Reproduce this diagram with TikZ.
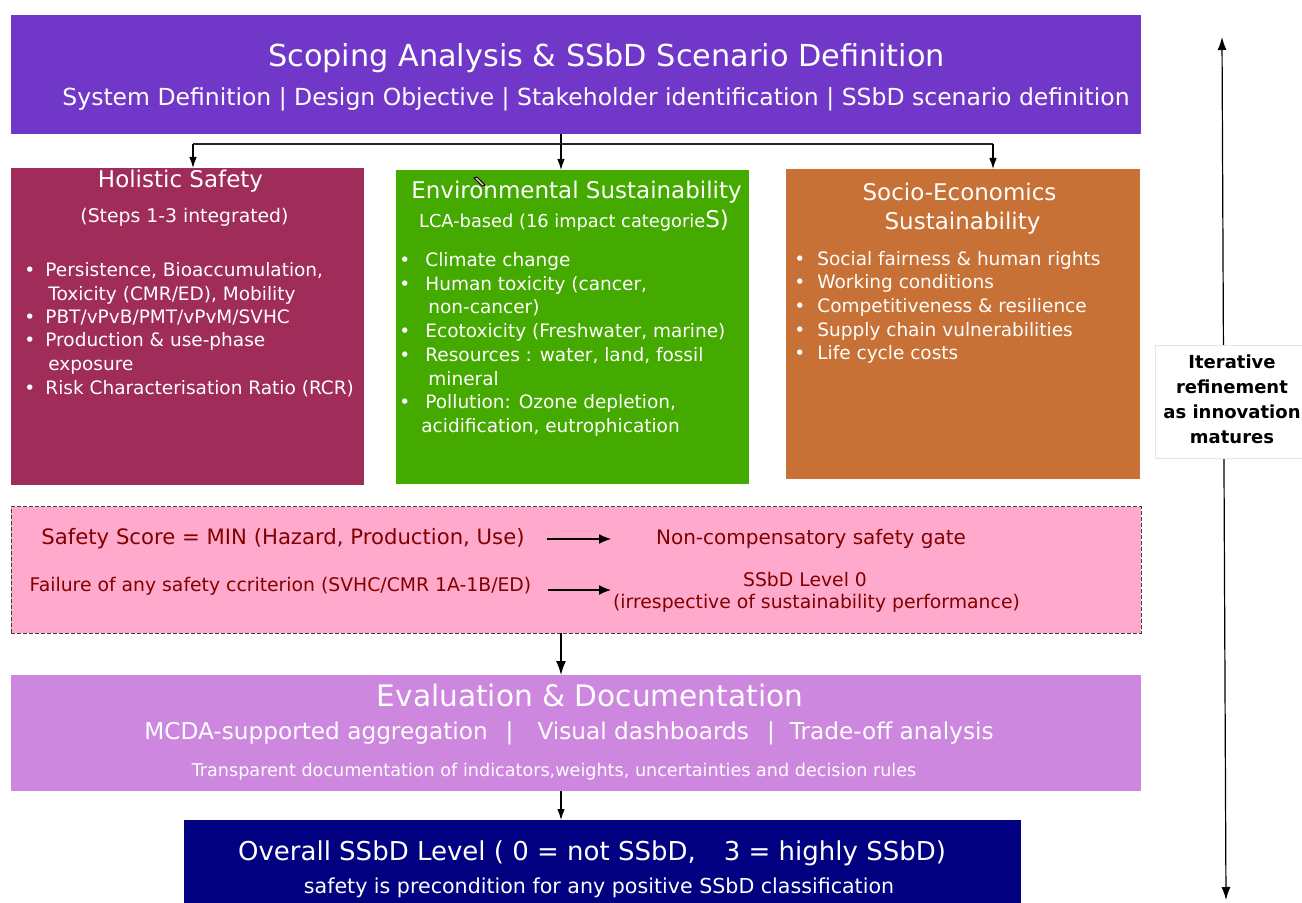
\documentclass[tikz,border=0pt]{standalone}
\usepackage{fontspec}
\setmainfont{DejaVu Sans}
\usepackage{xcolor}
\usetikzlibrary{positioning, arrows.meta}

\definecolor{scopepurple}{HTML}{7137C8}
\definecolor{safetyred}{HTML}{A02C5A}
\definecolor{envgreen}{HTML}{44AA00}
\definecolor{socioorange}{HTML}{C87137}
\definecolor{gatepink}{HTML}{FFAACC}
\definecolor{gatetext}{HTML}{800000}
\definecolor{evallilac}{HTML}{CD87DE}
\definecolor{overallnavy}{HTML}{000080}

\newcommand{\fsz}[1]{\fontsize{#1}{#1}\selectfont}

\begin{document}
\begin{tikzpicture}[x=0.5pt, y=-0.5pt,
    panel/.style={rectangle, anchor=north west, inner sep=0pt, outer sep=0pt},
    txt/.style={anchor=base, inner sep=0pt, text=white},
    item/.style={anchor=base west, inner sep=0pt, text=white, font=\fsz{9.25}},
    link/.style={-{Latex[length=5.5pt, width=3.8pt]}, line width=0.6pt},
    flow/.style={-{Latex[length=7pt, width=5pt]}, line width=0.7pt},
    gatearrow/.style={-{Latex[length=6pt, width=5pt]}, line width=0.7pt},
    gatetxt/.style={anchor=base, inner sep=0pt, text=gatetext}]

    \useasboundingbox (0,0) rectangle (1302,903);

    % scoping
    \node[panel, fill=scopepurple, minimum width=565pt, minimum height=59.5pt] (scope) at (11,15) {};
    \node[txt, font=\fsz{15.15}] (scopetitle) at (606.5,67) {Scoping Analysis \& SSbD Scenario Definition};
    \node[txt, font=\fsz{11.75}] (scopesub) at (596,106) {System Definition | Design Objective | Stakeholder identification | SSbD scenario definition};

    % the three pillars
    \node[panel, fill=safetyred, minimum width=176.5pt, minimum height=158.5pt] (safety) at (11,168) {};
    \node[panel, fill=envgreen, minimum width=176.5pt, minimum height=157pt] (envir) at (396,170) {};
    \node[panel, fill=socioorange, minimum width=177pt, minimum height=155pt] (socio) at (786,169) {};

    \node[txt, font=\fsz{11.5}] (safetyhead) at (180.5,188) {Holistic Safety};
    \node[txt, font=\fsz{9.4}] (safetysub) at (184.5,223) {(Steps 1-3 integrated)};
    \foreach \x/\y/\itemtxt [count=\i] in {45/277/{Persistence, Bioaccumulation,}, 48/300.5/{Toxicity (CMR/ED), Mobility},
        45/324/{PBT/vPvB/PMT/vPvM/SVHC}, 45/347/{Production \& use-phase}, 48/371/{exposure},
        45/395/{Risk Characterisation Ratio (RCR)}}
        \node[item] (hs\i) at (\x,\y) {\itemtxt};
    \foreach \y [count=\i] in {277,324,347,395}
        \node[item] (hsdot\i) at (24,\y) {\textbullet};

    \node[txt, font=\fsz{11.5}] (envhead) at (576.5,199) {Environmental Sustainability};
    \node[txt, font=\fsz{8.9}] (envsub) at (574,228) {LCA-based (16 impact categorie{\fsz{11.5}S)}};
    \filldraw[fill=gatepink, draw=black, line width=0.4pt] (474,178) -- (477,177) -- (485,185) -- (482,186) -- cycle;
    \foreach \x/\y/\itemtxt [count=\i] in {425/267/{Climate change}, 425/291/{Human toxicity (cancer,}, 428/314/{non-cancer)},
        425/338/{Ecotoxicity (Freshwater, marine)}, 425/362/{Resources : water, land, fossil}, 428/386/{mineral},
        425/409/{Pollution: Ozone depletion,}, 421/433/{acidification, eutrophication}}
        \node[item] (es\i) at (\x,\y) {\itemtxt};
    \foreach \y [count=\i] in {267,291,338,362,409}
        \node[item] (esdot\i) at (399,\y) {\textbullet};

    \node[txt, font=\fsz{11.5}] (sociohead) at (959.5,201) {Socio-Economics};
    \node[txt, font=\fsz{11.5}] (sociohead2) at (962.5,230) {Sustainability};
    \foreach \y/\itemtxt [count=\i] in {266/{Social fairness \& human rights}, 289/{Working conditions},
        313/{Competitiveness \& resilience}, 337/{Supply chain vulnerabilities}, 360/{Life cycle costs}}
    {
        \node[item] (ss\i) at (817,\y) {\itemtxt};
        \node[item] (ssdot\i) at (794,\y) {\textbullet};
    }

    % fork from scoping to the pillars
    \coordinate (fork) at (561,144);
    \coordinate (forkL) at (193,144);
    \coordinate (forkR) at (993,144);
    \draw[line width=0.6pt] (scope.south -| fork) -- (fork);
    \draw[line width=1pt, black!85] (forkL) -- (forkR);
    \draw[link] (fork) -- (envir.north -| fork);
    \draw[link] (forkL) -- (safety.north -| forkL);
    \draw[link] (forkR) -- (socio.north -| forkR);

    % safety gate
    \node[panel, fill=gatepink, draw=black!75, dash pattern=on 2pt off 1pt, line width=0.5pt,
        minimum width=565pt, minimum height=63pt] (gate) at (11,507) {};
    \node[gatetxt, font=\fsz{10.6}] (score) at (283,545) {Safety Score = MIN (Hazard, Production, Use)};
    \node[gatetxt, font=\fsz{10}] (gaterule) at (811,545) {Non-compensatory safety gate};
    \node[gatetxt, font=\fsz{9.4}] (failure) at (280.5,591.7) {Failure of any safety ccriterion (SVHC/CMR 1A-1B/ED)};
    \node[gatetxt, font=\fsz{9.4}] (levelzero) at (805,586.7) {SSbD Level 0};
    \node[gatetxt, font=\fsz{9.4}] (irresp) at (816.5,608.3) {(irrespective of sustainability performance)};
    \coordinate (scoretip) at (611,539);
    \coordinate (failtip) at (611,590);
    \draw[gatearrow, shorten <=11pt] (score.east |- scoretip) -- (scoretip);
    \draw[gatearrow, shorten <=8pt] (failure.east |- failtip) -- (failtip);

    % evaluation
    \node[panel, fill=evallilac, minimum width=565pt, minimum height=58pt] (evaldoc) at (11,675) {};
    \node[txt, font=\fsz{14.8}] (evalhead) at (590,706.7) {Evaluation \& Documentation};
    \node[txt, font=\fsz{11.6}] (evaltools) at (569,739.3) {MCDA-supported aggregation\hspace{9pt}|\hspace{12pt}Visual dashboards\hspace{9pt}|\hspace{7.5pt}Trade-off analysis};
    \node[txt, font=\fsz{8.8}] (evalnote) at (554,776.7) {Transparent documentation of indicators,weights, uncertainties and decision rules};

    % overall level
    \node[panel, fill=overallnavy, minimum width=418.5pt, minimum height=44pt] (overall) at (184,820) {};
    \node[txt, font=\fsz{13}] (overallhead) at (592,860) {Overall SSbD Level ( 0 = not SSbD,\hspace{14pt}3 = highly SSbD)};
    \node[txt, font=\fsz{10.3}] (overallnote) at (599,893.3) {safety is precondition for any positive SSbD classification};

    \draw[flow] (gate.south -| fork) -- (evaldoc.north -| fork);
    \draw[link] (evaldoc.south -| fork) -- (overall.north -| fork);

    % iteration loop on the right
    \coordinate (looptop) at (1222,37);
    \coordinate (loopbot) at (1226,900);
    \draw[{Latex[length=6.5pt, width=4.5pt]}-{Latex[length=6.5pt, width=4.5pt]}, line width=0.6pt] (looptop) -- (loopbot);
    \node[panel, fill=white, draw=black!10, minimum width=80pt, minimum height=56.5pt] (iterbox) at (1155,345) {};
    \node[font=\bfseries\fontsize{9}{12.5}\selectfont, align=center, inner sep=0pt] (iterlbl) at (1232,399)
        {Iterative\\refinement\\as innovation\\matures};
\end{tikzpicture}
\end{document}
